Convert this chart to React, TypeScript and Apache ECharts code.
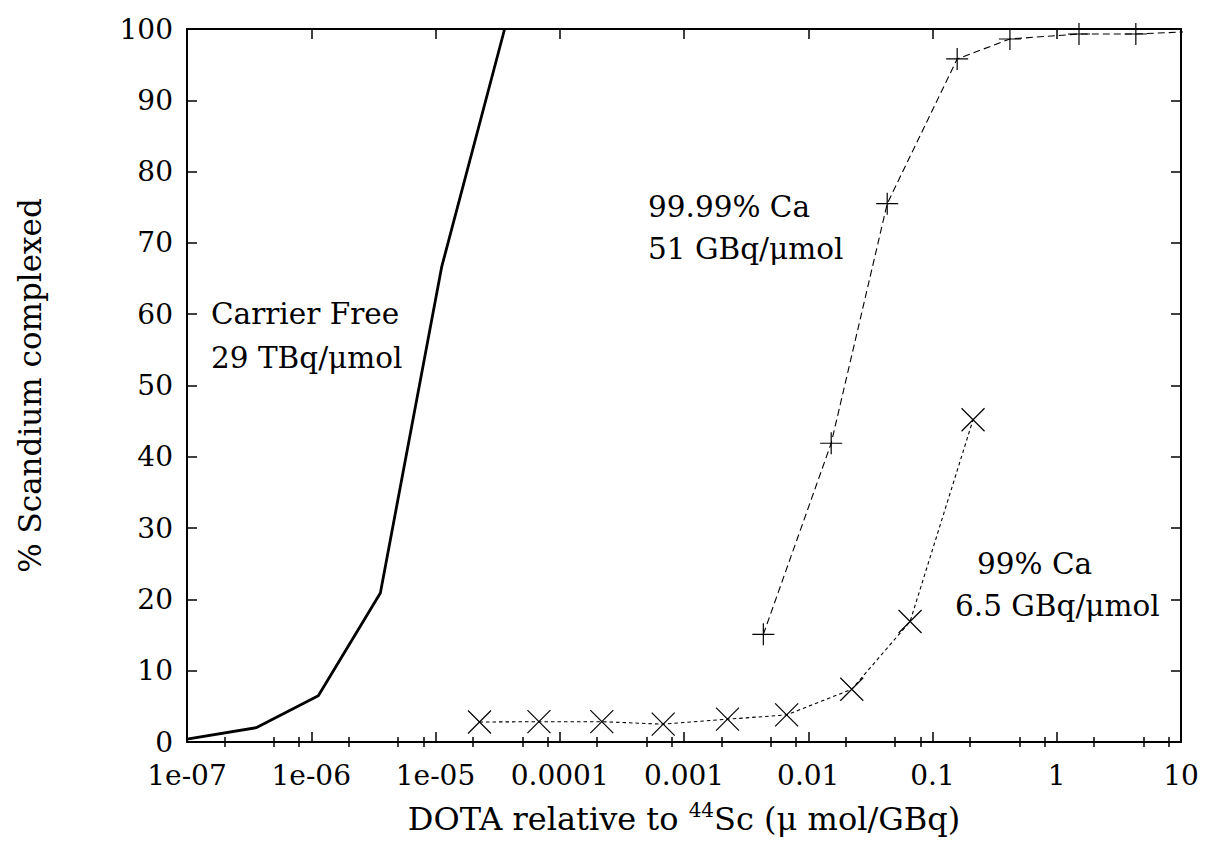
import React, { useEffect, useRef } from "react";
import * as echarts from "echarts";

// ---- data ----
const carrierFreeX = [1e-7, 3.6e-7, 1.14e-6, 3.6e-6, 1.12e-5, 3.6e-5];
const carrierFreeY = [0.4, 2.0, 6.5, 20.9, 66.6, 100];

const ca9999X = [4.35e-3, 0.0153, 0.0432, 0.158, 0.42, 1.51, 4.33, 15];
const ca9999Y = [15.1, 41.9, 75.5, 95.8, 98.6, 99.3, 99.3, 99.7];

const ca99X = [2.26e-5, 6.8e-5, 2.18e-4, 6.8e-4, 2.24e-3, 6.7e-3, 0.0224, 0.066, 0.212];
const ca99Y = [2.8, 2.85, 2.85, 2.5, 3.2, 3.8, 7.4, 16.9, 45.2];

const xTickExponents = [-7, -6, -5, -4, -3, -2, -1, 0, 1];
const xTickLabels = ["1e-07", "1e-06", "1e-05", "0.0001", "0.001", "0.01", "0.1", "1", "10"];
const xMinorMultipliers = [2, 5, 8];

const FONT = "DejaVu Serif";

const PLUS = "path://M5,0L5,10M0,5L10,5";
const CROSS = "path://M0,0L10,10M10,0L0,10";

function pairs(xs: number[], ys: number[]) {
  return xs.map((x, i) => [x, ys[i]]);
}

export default function App() {
  const ref = useRef<HTMLDivElement>(null);

  useEffect(() => {
    if (!ref.current) return;
    const chart = echarts.init(ref.current, null, { renderer: "svg" });

    const minorValues: number[] = [];
    for (let e = -7; e < 1; e++) {
      for (const m of xMinorMultipliers) minorValues.push(m * Math.pow(10, e));
    }

    const baseX = {
      type: "log" as const,
      logBase: 10,
      min: 1e-7,
      max: 10,
      splitNumber: 8,
      splitLine: { show: false },
      axisLine: { show: true, onZero: false, lineStyle: { color: "#000", width: 2 } },
      axisTick: { show: true, inside: true, length: 10, lineStyle: { color: "#000", width: 1.5 } },
    };

    const annFont = `29.5px "${FONT}"`;

    const option: any = {
      animation: false,
      backgroundColor: "#fff",
      textStyle: { fontFamily: FONT, color: "#000" },
      grid: { left: 187, right: 28, top: 29, bottom: 115, containLabel: false },
      xAxis: [
        {
          ...baseX,
          position: "bottom",
          axisLabel: {
            show: true,
            color: "#000",
            fontFamily: FONT,
            fontSize: 28,
            margin: 19,
            formatter: (v: number) => {
              const e = Math.round(Math.log10(v));
              const i = xTickExponents.indexOf(e);
              return i >= 0 ? xTickLabels[i] : "";
            },
          },
          name: "{a|DOTA relative to }{s|44}{a|Sc (μ mol/GBq)}",
          nameLocation: "middle",
          nameGap: 58,
          nameTextStyle: {
            color: "#000",
            fontFamily: FONT,
            fontSize: 32,
            rich: {
              a: { fontFamily: FONT, fontSize: 32, color: "#000", lineHeight: 38 },
              s: { fontFamily: FONT, fontSize: 20, color: "#000", verticalAlign: "top", lineHeight: 20 },
            },
          },
        },
        { ...baseX, position: "top", axisLabel: { show: false } },
        {
          ...baseX,
          position: "bottom",
          axisLine: { show: false },
          axisLabel: { show: false },
          axisTick: { show: true, inside: true, length: 5, customValues: minorValues, lineStyle: { color: "#000", width: 1.5 } },
        },
        {
          ...baseX,
          position: "top",
          axisLine: { show: false },
          axisLabel: { show: false },
          axisTick: { show: true, inside: true, length: 5, customValues: minorValues, lineStyle: { color: "#000", width: 1.5 } },
        },
      ],
      yAxis: [
        {
          type: "value",
          min: 0,
          max: 100,
          interval: 10,
          position: "left",
          splitLine: { show: false },
          axisLine: { show: true, onZero: false, lineStyle: { color: "#000", width: 2 } },
          axisTick: { show: true, inside: true, length: 10, lineStyle: { color: "#000", width: 1.5 } },
          axisLabel: { color: "#000", fontFamily: FONT, fontSize: 28, margin: 14 },
          name: "% Scandium complexed",
          nameLocation: "middle",
          nameRotate: 90,
          nameGap: 142,
          nameTextStyle: { color: "#000", fontFamily: FONT, fontSize: 31 },
        },
        {
          type: "value",
          min: 0,
          max: 100,
          interval: 10,
          position: "right",
          splitLine: { show: false },
          axisLine: { show: true, onZero: false, lineStyle: { color: "#000", width: 2 } },
          axisTick: { show: true, inside: true, length: 10, lineStyle: { color: "#000", width: 1.5 } },
          axisLabel: { show: false },
        },
      ],
      series: [
        {
          name: "Carrier Free",
          type: "line",
          xAxisIndex: 0,
          yAxisIndex: 0,
          data: pairs(carrierFreeX, carrierFreeY),
          symbol: "none",
          lineStyle: { color: "#000", width: 2.8, type: "solid" },
          clip: true,
        },
        {
          name: "99.99% Ca",
          type: "line",
          xAxisIndex: 0,
          yAxisIndex: 0,
          data: pairs(ca9999X, ca9999Y),
          symbol: PLUS,
          symbolSize: 22,
          showSymbol: true,
          itemStyle: { color: "rgba(0,0,0,0)", borderColor: "#000", borderWidth: 1.2 },
          lineStyle: { color: "#000", width: 1.1, type: [7, 4] },
          clip: true,
        },
        {
          name: "99% Ca",
          type: "line",
          xAxisIndex: 0,
          yAxisIndex: 0,
          data: pairs(ca99X, ca99Y),
          symbol: CROSS,
          symbolSize: 23,
          showSymbol: true,
          itemStyle: { color: "rgba(0,0,0,0)", borderColor: "#000", borderWidth: 1.2 },
          lineStyle: { color: "#000", width: 1.1, type: [3.5, 3] },
          clip: true,
        },
      ],
      graphic: [
        { type: "text", x: 211, y: 314, style: { text: "Carrier Free", font: annFont, fill: "#000", verticalAlign: "middle" } },
        { type: "text", x: 211, y: 358, style: { text: "29 TBq/μmol", font: annFont, fill: "#000", verticalAlign: "middle" } },
        { type: "text", x: 648, y: 207, style: { text: "99.99% Ca", font: annFont, fill: "#000", verticalAlign: "middle" } },
        { type: "text", x: 648, y: 249, style: { text: "51 GBq/μmol", font: annFont, fill: "#000", verticalAlign: "middle" } },
        { type: "text", x: 977, y: 564, style: { text: "99% Ca", font: annFont, fill: "#000", verticalAlign: "middle" } },
        { type: "text", x: 955, y: 606, style: { text: "6.5 GBq/μmol", font: annFont, fill: "#000", verticalAlign: "middle" } },
      ],
    };

    chart.setOption(option);
    return () => chart.dispose();
  }, []);

  return (
    <div
      ref={ref}
      style={{ position: "fixed", left: 0, top: 0, width: 1209, height: 857, background: "#fff" }}
    />
  );
}
